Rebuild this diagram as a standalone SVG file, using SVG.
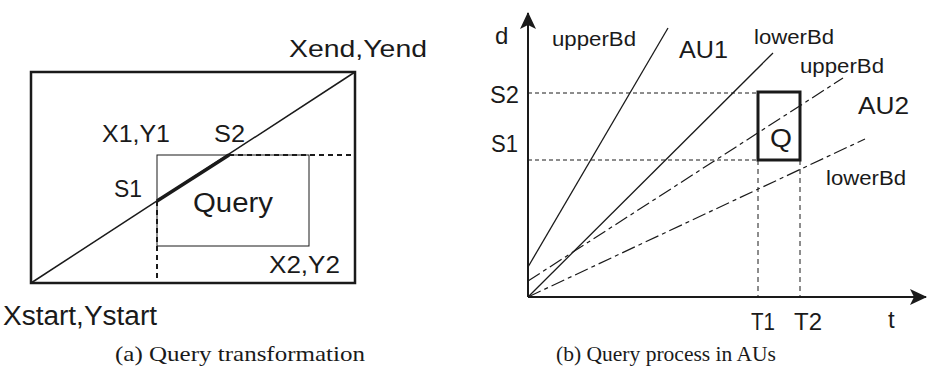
<svg xmlns="http://www.w3.org/2000/svg" width="929" height="380" viewBox="0 0 929 380">
<style>
.t{font-family:"Liberation Sans",Arial,sans-serif;fill:#1a1a1a}
.cap{font-family:"Liberation Serif","Times New Roman",serif;fill:#1a1a1a;font-size:22px}
.ln{stroke:#1a1a1a;fill:none}
</style>
<defs>
<marker id="ah" markerWidth="18" markerHeight="16" refX="16" refY="8" orient="auto" markerUnits="userSpaceOnUse">
<path d="M0,0 L17,8 L0,16 L4,8 Z" fill="#1a1a1a"/>
</marker>
</defs>
<rect width="929" height="380" fill="#fff"/>
<!-- Panel (a) -->
<g id="panel-a">
<g id="outer-rect"><rect x="31" y="72" width="324" height="211" class="ln" stroke-width="2.5"/></g>
<g id="query-rect"><rect x="157" y="155" width="152" height="91" class="ln" stroke-width="1"/></g>
<g id="connectors-a">
<line x1="31" y1="283" x2="355" y2="72" class="ln" stroke-width="1.5"/>
<line x1="157" y1="201" x2="229" y2="155" class="ln" stroke-width="3.5"/>
<line x1="229" y1="155" x2="355" y2="155" class="ln" stroke-width="2" stroke-dasharray="5 4"/>
<line x1="157" y1="201" x2="157" y2="283" class="ln" stroke-width="2" stroke-dasharray="5 4"/>
</g>
<text class="t" x="289" y="57" font-size="24" textLength="138" lengthAdjust="spacingAndGlyphs">Xend,Yend</text>
<text class="t" x="102" y="142" font-size="24" textLength="68" lengthAdjust="spacingAndGlyphs">X1,Y1</text>
<text class="t" x="214" y="142" font-size="24" textLength="31" lengthAdjust="spacingAndGlyphs">S2</text>
<text class="t" x="114" y="197" font-size="24" textLength="28" lengthAdjust="spacingAndGlyphs">S1</text>
<text class="t" x="193" y="212" font-size="27" textLength="80" lengthAdjust="spacingAndGlyphs">Query</text>
<text class="t" x="269" y="273" font-size="24" textLength="71" lengthAdjust="spacingAndGlyphs">X2,Y2</text>
<text class="t" x="3" y="325" font-size="27" textLength="154" lengthAdjust="spacingAndGlyphs">Xstart,Ystart</text>
</g>
<!-- Panel (b) -->
<g id="panel-b">
<g id="axes">
<line x1="528" y1="297" x2="528" y2="13" class="ln" stroke-width="2" marker-end="url(#ah)"/>
<line x1="528" y1="297" x2="926" y2="297" class="ln" stroke-width="2" marker-end="url(#ah)"/>
</g>
<g id="Q"><rect x="758" y="92" width="42" height="68" class="ln" stroke-width="3"/></g>
<g id="connectors-b">
<line x1="528" y1="267" x2="668" y2="28" class="ln" stroke-width="1.3"/>
<line x1="528" y1="297" x2="773" y2="53" class="ln" stroke-width="1.3"/>
<line x1="528" y1="281" x2="843" y2="78" class="ln" stroke-width="1.2" stroke-dasharray="14 4 4 4"/>
<line x1="528" y1="297" x2="865" y2="139" class="ln" stroke-width="1.2" stroke-dasharray="14 4 4 4"/>
<line x1="528" y1="93" x2="758" y2="93" class="ln" stroke-width="1" stroke-dasharray="4 3"/>
<line x1="528" y1="160" x2="758" y2="160" class="ln" stroke-width="1" stroke-dasharray="4 3"/>
<line x1="758" y1="160" x2="758" y2="297" class="ln" stroke-width="1" stroke-dasharray="5 4"/>
<line x1="800" y1="160" x2="800" y2="297" class="ln" stroke-width="1" stroke-dasharray="5 4"/>
</g>
<text class="t" x="495" y="44" font-size="24">d</text>
<text class="t" x="552" y="46" font-size="20" textLength="84" lengthAdjust="spacingAndGlyphs">upperBd</text>
<text class="t" x="679" y="58" font-size="24" textLength="49" lengthAdjust="spacingAndGlyphs">AU1</text>
<text class="t" x="754" y="44" font-size="20" textLength="80" lengthAdjust="spacingAndGlyphs">lowerBd</text>
<text class="t" x="800" y="73" font-size="20" textLength="84" lengthAdjust="spacingAndGlyphs">upperBd</text>
<text class="t" x="858" y="114" font-size="24" textLength="51" lengthAdjust="spacingAndGlyphs">AU2</text>
<text class="t" x="490" y="103" font-size="24" textLength="29" lengthAdjust="spacingAndGlyphs">S2</text>
<text class="t" x="491" y="152" font-size="24" textLength="27" lengthAdjust="spacingAndGlyphs">S1</text>
<text class="t" x="770" y="147" font-size="26" textLength="22" lengthAdjust="spacingAndGlyphs">Q</text>
<text class="t" x="826" y="185" font-size="20" textLength="80" lengthAdjust="spacingAndGlyphs">lowerBd</text>
<text class="t" x="751" y="330" font-size="24" textLength="24" lengthAdjust="spacingAndGlyphs">T1</text>
<text class="t" x="794" y="330" font-size="24" textLength="28" lengthAdjust="spacingAndGlyphs">T2</text>
<text class="t" x="888" y="328" font-size="24">t</text>
</g>
<g id="captions">
<text class="cap" x="115" y="361" textLength="250" lengthAdjust="spacingAndGlyphs">(a)  Query transformation</text>
<text class="cap" x="556" y="361" textLength="220" lengthAdjust="spacingAndGlyphs">(b)  Query process in AUs</text>
</g>
</svg>
